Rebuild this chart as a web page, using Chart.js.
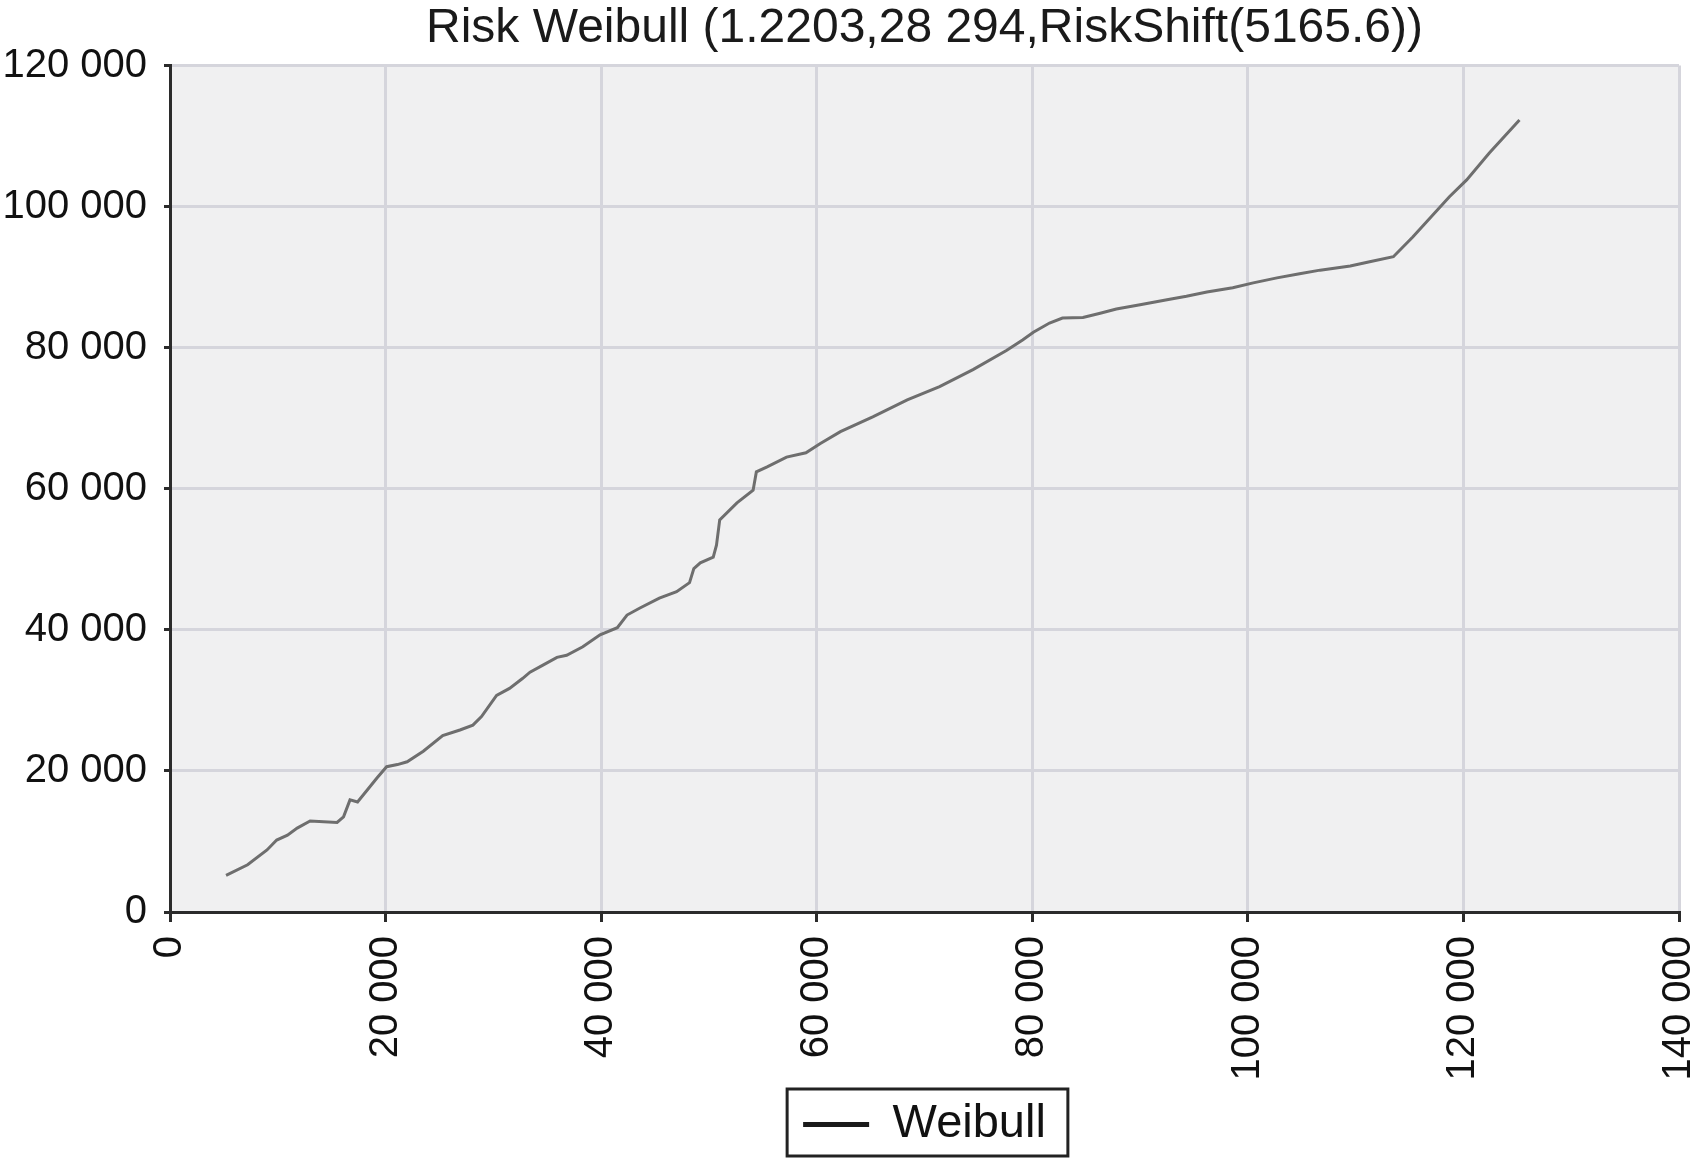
<!DOCTYPE html>
<html lang="en">
<head>
    <meta charset="UTF-8">
    <title>Risk Weibull</title>
    <script src="https://cdn.jsdelivr.net/npm/chart.js@4.4.1/dist/chart.umd.min.js"></script>
    <style>
        html, body { margin: 0; padding: 0; background: #fff; }
        .chart-container { position: relative; width: 1702px; height: 1158px; }
    </style>
</head>
<body>
    <div class="chart-container">
        <canvas id="weibullChart"></canvas>
    </div>

    <script>
        const titleText = 'Risk Weibull (1.2203,28 294,RiskShift(5165.6))';
        const seriesName = 'Weibull';

        // values
        const xValues = [
            5200, 7200, 9000, 9900, 10900, 11800, 13000, 15500, 16100, 16700,
            17400, 18300, 19200, 20100, 21100, 22000, 23500, 25300, 26900, 28100,
            28900, 30300, 31500, 32700, 33400, 34600, 35900, 36800, 38300, 39900,
            41500, 42400, 43600, 45400, 47000, 48200, 48600, 49200, 50400, 50700,
            51000, 52600, 54100, 54400, 55400, 57200, 59000, 60300, 62200, 65200,
            68400, 71400, 74500, 77600, 79100, 80100, 81600, 82800, 84700, 86300,
            87800, 90000, 92500, 94300, 96200, 98600, 100500, 102700, 104800, 106700,
            109500, 111300, 113500, 115300, 118700, 120300, 122400, 125200
        ];
        const yValues = [
            5200, 6700, 8800, 10200, 10900, 11900, 12900, 12700, 13500, 15900,
            15600, 17300, 19000, 20600, 20900, 21300, 22800, 25000, 25800, 26500,
            27700, 30700, 31700, 33100, 34000, 35000, 36100, 36400, 37600, 39300,
            40300, 42100, 43100, 44500, 45400, 46700, 48700, 49500, 50300, 52000,
            55600, 58000, 59800, 62400, 63100, 64500, 65100, 66400, 68100, 70200,
            72600, 74500, 76900, 79600, 81100, 82200, 83500, 84200, 84300, 84900,
            85500, 86100, 86800, 87300, 87900, 88500, 89200, 89900, 90500, 91000,
            91600, 92200, 92900, 95700, 101400, 103800, 107600, 112300
        ];
        const xTickValues = [0, 20000, 40000, 60000, 80000, 100000, 120000, 140000];
        const yTickValues = [0, 20000, 40000, 60000, 80000, 100000, 120000];

        const fontFamily = "'Liberation Sans', Arial, sans-serif";
        const axisColor = '#2b2b2b';
        const gridColor = '#d5d5dc';

        // "120 000" style labels
        const fmt = v => String(v).replace(/\B(?=(\d{3})+(?!\d))/g, ' ');

        const points = xValues.map((x, i) => ({ x: x, y: yValues[i] }));

        // light grey plot area
        const plotBackground = {
            id: 'plotBackground',
            beforeDraw(chart) {
                const { ctx, chartArea: a } = chart;
                ctx.save();
                ctx.fillStyle = '#f0f0f1';
                ctx.fillRect(a.left, a.top, a.right - a.left, a.bottom - a.top);
                ctx.restore();
            }
        };

        // black frame round the legend item
        const legendFrame = {
            id: 'legendFrame',
            afterDraw(chart) {
                const hb = chart.legend && chart.legend.legendHitBoxes && chart.legend.legendHitBoxes[0];
                if (!hb) return;
                const ctx = chart.ctx;
                ctx.save();
                ctx.strokeStyle = '#222';
                ctx.lineWidth = 3;
                ctx.strokeRect(hb.left - 16, hb.top - 12, hb.width + 38, hb.height + 20);
                ctx.restore();
            }
        };

        const config = {
            type: 'line',
            data: {
                datasets: [{
                    label: seriesName,
                    data: points,
                    borderColor: '#6e6e6e',
                    borderWidth: 3,
                    pointRadius: 0,
                    tension: 0,
                    fill: false
                }]
            },
            options: {
                responsive: true,
                maintainAspectRatio: false,
                animation: false,
                layout: { padding: 0 },
                scales: {
                    x: {
                        type: 'linear',
                        min: 0,
                        max: 140000,
                        afterBuildTicks: s => { s.ticks = xTickValues.map(v => ({ value: v })); },
                        afterFit: s => { s.height = 181; s.paddingLeft = 0; s.paddingRight = 23; },
                        grid: { color: gridColor, lineWidth: 3, tickColor: axisColor, tickWidth: 3, tickLength: 10, z: -1 },
                        border: { color: axisColor, width: 3 },
                        ticks: {
                            autoSkip: false,
                            minRotation: 90,
                            maxRotation: 90,
                            padding: 14,
                            color: '#111',
                            font: { family: fontFamily, size: 40 },
                            callback: v => fmt(v)
                        }
                    },
                    y: {
                        type: 'linear',
                        min: 0,
                        max: 120000,
                        afterBuildTicks: s => { s.ticks = yTickValues.map(v => ({ value: v })); },
                        afterFit: s => { s.width = 170; },
                        grid: { color: gridColor, lineWidth: 3, tickColor: axisColor, tickWidth: 3, tickLength: 6, z: -1 },
                        border: { color: axisColor, width: 3 },
                        ticks: {
                            autoSkip: false,
                            padding: 17,
                            color: '#111',
                            font: { family: fontFamily, size: 40 },
                            callback: v => fmt(v)
                        }
                    }
                },
                plugins: {
                    title: {
                        display: true,
                        text: titleText,
                        fullSize: false,
                        color: '#1a1a1a',
                        font: { family: fontFamily, size: 48, weight: 'normal' },
                        padding: { top: 0, bottom: 8 }
                    },
                    legend: {
                        display: true,
                        position: 'bottom',
                        fullSize: false,
                        labels: {
                            color: '#111',
                            font: { family: fontFamily, size: 47 },
                            boxWidth: 66,
                            boxHeight: 5,
                            padding: 8,
                            generateLabels: chart => Chart.defaults.plugins.legend.labels.generateLabels(chart).map(l => {
                                l.fillStyle = '#1a1a1a';
                                l.strokeStyle = '#1a1a1a';
                                l.lineWidth = 0;
                                return l;
                            })
                        }
                    },
                    tooltip: { enabled: false }
                }
            },
            plugins: [plotBackground, legendFrame]
        };

        new Chart(document.getElementById('weibullChart').getContext('2d'), config);
    </script>
</body>
</html>
